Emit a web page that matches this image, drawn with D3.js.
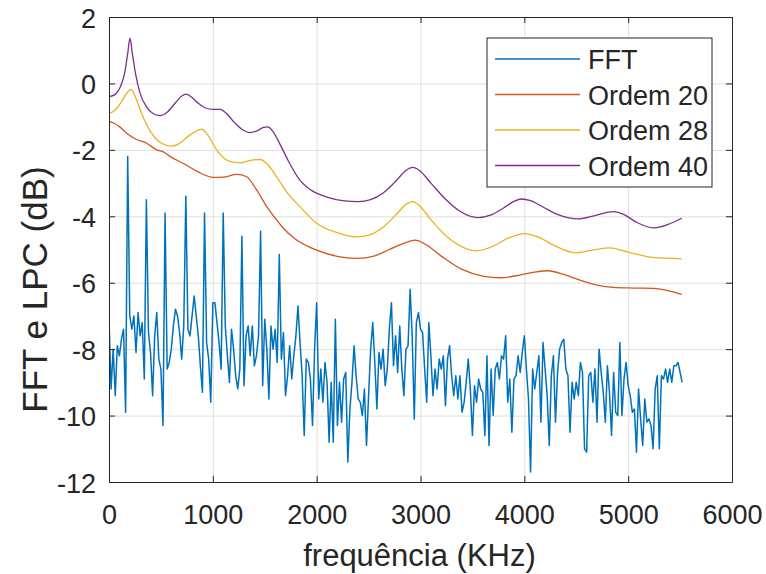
<!DOCTYPE html>
<html>
<head>
<meta charset="utf-8">
<script src="https://cdn.jsdelivr.net/npm/d3@7"></script>
<style>
  body { margin: 0; background: #fff; }
  svg text { font-family: "Liberation Sans", Arial, Helvetica, sans-serif; fill: #262626; }
</style>
</head>
<body>
<div id="chart"></div>
<script>
// x ticks / y ticks
const xTicks = [0, 1000, 2000, 3000, 4000, 5000, 6000];
const yTicks = [-12, -10, -8, -6, -4, -2, 0, 2];

// FFT magnitude, one value every 20 Hz from 0 Hz
const fftStep = 20;
const fftDb = [
  -7.1,-9.2,-8.0,-9.4,-7.9,-8.2,-7.7,-7.4,-9.9,-2.2,
  -7.0,-7.4,-7.0,-8.1,-6.9,-7.6,-7.2,-8.9,-3.5,-7.5,
  -8.1,-9.4,-7.6,-6.9,-8.3,-8.6,-10.3,-3.9,-8.6,-8.4,
  -8.0,-7.3,-6.8,-7.0,-7.5,-8.3,-7.3,-3.4,-7.4,-7.6,
  -7.0,-6.4,-7.0,-7.6,-8.5,-9.3,-3.9,-7.8,-8.3,-9.6,
  -6.6,-6.6,-7.2,-7.8,-8.6,-3.9,-7.3,-8.2,-9.0,-7.4,
  -8.0,-8.8,-9.2,-8.6,-4.6,-9.1,-7.6,-7.3,-8.2,-7.3,
  -8.5,
  -8.2,-7.6,-4.45,-9.1,-7.1,-8.0,-9.5,-7.3,-8.0,-7.4,
  -8.4,-5.15,-8.3,-7.5,-9.4,-8.8,-7.9,-8.9,-8.2,-7.6,
  -6.7,-7.8,-8.8,-10.6,-8.3,-8.4,-8.9,-10.3,-8.0,-6.6,
  -9.5,-8.6,-9.6,-8.4,-9.0,-10.8,-9.0,-10.8,-7.1,-10.3,
  -9.0,-10.2,-8.9,-8.7,-11.4,-9.8,-9.0,-7.9,-8.8,-9.5,
  -9.6,-10.0,-9.2,-10.9,-9.4,-8.0,-7.2,-8.4,-9.8,-8.1,
  -8.6,-8.0,-9.1,-8.6,-7.4,-6.6,-8.5,-7.6,-8.7,
  -7.3,-8.6,-9.4,-8.0,-7.9,-6.2,-7.6,-10.1,-7.2,-6.9,
  -7.4,-7.5,-8.6,-9.6,-7.2,-8.2,-9.4,-8.6,-9.2,-8.3,
  -8.6,-8.2,-9.7,-8.3,-7.9,-8.8,-9.4,-8.8,-9.5,-8.8,
  -9.9,-9.6,-9.0,-8.3,-9.2,-10.6,-9.1,-9.6,-8.9,-9.2,
  -9.3,-10.6,-8.2,-10.9,-8.6,-10.0,-8.6,-8.4,-8.9,-8.2,
  -8.3,-7.6,-9.6,-8.9,-10.5,-8.9,-8.8,-8.2,-8.7,-8.1,
  -7.6,-8.6,-9.5,-11.7,-8.6,-9.2,-8.7,-8.2,-10.2,
  -7.8,-8.6,-9.4,-10.9,-8.8,-8.2,-10.2,-8.7,-8.0,-7.8,
  -7.7,-8.6,-8.8,-10.5,-9.0,-9.5,-9.0,-9.4,-8.4,-8.7,
  -11.0,-11.1,-8.8,-8.7,-9.6,-8.6,-10.2,-8.0,-8.7,-9.3,
  -10.2,-8.5,-9.3,-10.6,-8.7,-9.9,-10.0,-7.8,-10.0,-8.9,
  -8.4,-9.1,-9.4,-9.9,-9.8,-11.1,-9.2,-10.1,-10.9,-9.5,
  -10.2,-10.1,-10.3,-11.0,-9.2,-8.8,-11.0,-8.8,-8.9,-8.6,
  -9.0,-8.6,-9.0,-8.5,-8.5,-8.4,-8.7,-9.0
];

// LPC envelopes: [frequency, value]
const ordem20 = [
  [0,-1.15],[50,-1.2],[100,-1.3],[170,-1.5],[260,-1.68],[363,-1.8],[459,-2.0],[523,-2.06],
  [600,-2.22],[716,-2.41],[850,-2.65],[1005,-2.83],[1100,-2.82],[1230,-2.74],[1326,-2.81],
  [1420,-3.2],[1519,-3.71],[1600,-4.05],[1679,-4.36],[1800,-4.7],[2000,-5.02],[2225,-5.22],
  [2400,-5.27],[2550,-5.2],[2700,-5.0],[2850,-4.8],[2947,-4.72],[3050,-4.85],[3200,-5.2],
  [3400,-5.6],[3600,-5.8],[3766,-5.85],[3958,-5.77],[4100,-5.68],[4231,-5.64],[4380,-5.75],
  [4536,-5.92],[4700,-6.07],[4857,-6.14],[5050,-6.16],[5242,-6.17],[5400,-6.25],[5516,-6.35]
];
const ordem28 = [
  [0,-0.9],[60,-0.8],[120,-0.55],[170,-0.3],[212,-0.18],[260,-0.45],[320,-0.95],[400,-1.45],
  [480,-1.75],[560,-1.87],[604,-1.89],[680,-1.8],[780,-1.55],[850,-1.42],[893,-1.38],[950,-1.55],
  [1037,-2.0],[1120,-2.28],[1200,-2.37],[1262,-2.39],[1360,-2.32],[1454,-2.29],[1530,-2.45],
  [1615,-2.81],[1720,-3.3],[1840,-3.71],[2000,-4.21],[2225,-4.52],[2385,-4.62],[2520,-4.55],
  [2650,-4.3],[2780,-3.9],[2870,-3.62],[2925,-3.56],[2990,-3.68],[3100,-4.1],[3250,-4.6],
  [3400,-4.92],[3541,-5.04],[3700,-4.9],[3850,-4.65],[4006,-4.52],[4130,-4.62],[4300,-4.9],
  [4488,-5.1],[4650,-5.02],[4825,-4.95],[5000,-5.08],[5240,-5.24],[5516,-5.28]
];
const ordem40 = [
  [0,-0.4],[60,-0.33],[110,-0.1],[150,0.3],[180,0.9],[202,1.36],[225,0.9],[255,0.3],[300,-0.3],
  [360,-0.7],[420,-0.9],[490,-0.97],[560,-0.87],[640,-0.58],[700,-0.38],[742,-0.32],[790,-0.4],
  [860,-0.6],[930,-0.74],[1000,-0.78],[1070,-0.78],[1130,-0.9],[1200,-1.15],[1280,-1.38],
  [1358,-1.48],[1430,-1.42],[1490,-1.32],[1530,-1.31],[1580,-1.45],[1650,-1.85],[1730,-2.35],
  [1840,-2.92],[1950,-3.22],[2100,-3.42],[2250,-3.53],[2400,-3.56],[2520,-3.5],[2640,-3.3],
  [2760,-2.95],[2860,-2.62],[2925,-2.53],[2990,-2.62],[3100,-3.0],[3230,-3.45],[3380,-3.85],
  [3554,-4.04],[3680,-3.96],[3800,-3.75],[3900,-3.55],[3975,-3.48],[4060,-3.53],[4180,-3.72],
  [4330,-3.96],[4520,-4.08],[4680,-3.98],[4857,-3.86],[4960,-3.95],[5080,-4.18],[5242,-4.35],
  [5380,-4.25],[5516,-4.06]
];

const seriesNames = ["FFT", "Ordem 20", "Ordem 28", "Ordem 40"];
const seriesColors = ["#0072BD", "#D95319", "#EDB120", "#7E2F8E"];
const xLabel = "frequência (KHz)";
const yLabel = "FFT e LPC (dB)";

// size and margins
const W = 766, H = 574;
const margin = {top: 17, right: 34, bottom: 92, left: 109},
    width = W - margin.left - margin.right,
    height = H - margin.top - margin.bottom;

const svg = d3.select("#chart")
  .append("svg")
    .attr("width", W)
    .attr("height", H)
  .append("g")
    .attr("transform", "translate(" + margin.left + "," + margin.top + ")");

const xScale = d3.scaleLinear().domain([0, 6000]).range([0, width]);
const yScale = d3.scaleLinear().domain([-12, 2]).range([height, 0]);
const tickText = d => String(d);   // plain hyphen minus, like the reference

// grid
const gridColor = "#dfdfdf";
svg.append("g")
  .attr("transform", "translate(0," + height + ")")
  .call(d3.axisBottom(xScale).tickValues(xTicks).tickSize(-height).tickFormat(""))
  .call(g => g.select(".domain").remove())
  .selectAll("line").attr("stroke", gridColor);
svg.append("g")
  .call(d3.axisLeft(yScale).tickValues(yTicks).tickSize(-width).tickFormat(""))
  .call(g => g.select(".domain").remove())
  .selectAll("line").attr("stroke", gridColor);

// data
svg.append("clipPath").attr("id", "clip")
  .append("rect").attr("width", width).attr("height", height);
const plot = svg.append("g").attr("clip-path", "url(#clip)");

const fftLine = d3.line()
  .x((d, i) => xScale(i * fftStep))
  .y(d => yScale(d));
plot.append("path")
  .datum(fftDb)
  .attr("fill", "none")
  .attr("stroke", seriesColors[0])
  .attr("stroke-width", 1.5)
  .attr("stroke-linejoin", "round")
  .attr("d", fftLine);

const lpcLine = d3.line()
  .x(d => xScale(d[0]))
  .y(d => yScale(d[1]))
  .curve(d3.curveMonotoneX);
[ordem20, ordem28, ordem40].forEach((s, k) => {
  plot.append("path")
    .datum(s)
    .attr("fill", "none")
    .attr("stroke", seriesColors[k + 1])
    .attr("stroke-width", 1.3)
    .attr("d", lpcLine);
});

// axes box with inward ticks
const axisColor = "#262626";
const tickLen = 6;
const styleAxis = g => {
  g.select(".domain").attr("stroke", axisColor);
  g.selectAll(".tick line").attr("stroke", axisColor);
};
svg.append("g")
  .attr("transform", "translate(0," + height + ")")
  .call(d3.axisBottom(xScale).tickValues(xTicks).tickSizeInner(-tickLen).tickSizeOuter(0).tickFormat(tickText))
  .call(styleAxis)
  .call(g => g.selectAll("text")
      .attr("dy", null).attr("y", 42)
      .attr("font-size", 27).attr("fill", axisColor));
svg.append("g")
  .call(d3.axisTop(xScale).tickValues(xTicks).tickSizeInner(-tickLen).tickSizeOuter(0).tickFormat(""))
  .call(styleAxis);
svg.append("g")
  .call(d3.axisLeft(yScale).tickValues(yTicks).tickSizeInner(-tickLen).tickSizeOuter(0).tickFormat(tickText))
  .call(styleAxis)
  .call(g => g.selectAll("text")
      .attr("dy", null).attr("x", -13).attr("y", 10)
      .attr("font-size", 27).attr("fill", axisColor));
svg.append("g")
  .attr("transform", "translate(" + width + ",0)")
  .call(d3.axisRight(yScale).tickValues(yTicks).tickSizeInner(-tickLen).tickSizeOuter(0).tickFormat(""))
  .call(styleAxis);

// axis labels
svg.append("text")
  .attr("text-anchor", "middle")
  .attr("x", width / 2 - 1)
  .attr("y", height + 84)
  .attr("font-size", 31)
  .text(xLabel);
svg.append("text")
  .attr("text-anchor", "middle")
  .attr("transform", `translate(${-62}, ${height / 2 + 40}) rotate(-90)`)
  .attr("font-size", 35)
  .text(yLabel);

// legend
const legend = svg.append("g")
  .attr("transform", "translate(" + (487 - margin.left) + "," + (38 - margin.top) + ")");
legend.append("rect")
  .attr("width", 225).attr("height", 149)
  .attr("fill", "#fff").attr("stroke", axisColor).attr("stroke-width", 1);
seriesNames.forEach((name, i) => {
  const yy = 21 + i * 35.5;
  legend.append("line")
    .attr("x1", 8).attr("x2", 93).attr("y1", yy).attr("y2", yy)
    .attr("stroke", seriesColors[i]).attr("stroke-width", 1.3);
  legend.append("text")
    .attr("x", 101).attr("y", yy + 10)
    .attr("font-size", 27)
    .text(name);
});
</script>
</body>
</html>
